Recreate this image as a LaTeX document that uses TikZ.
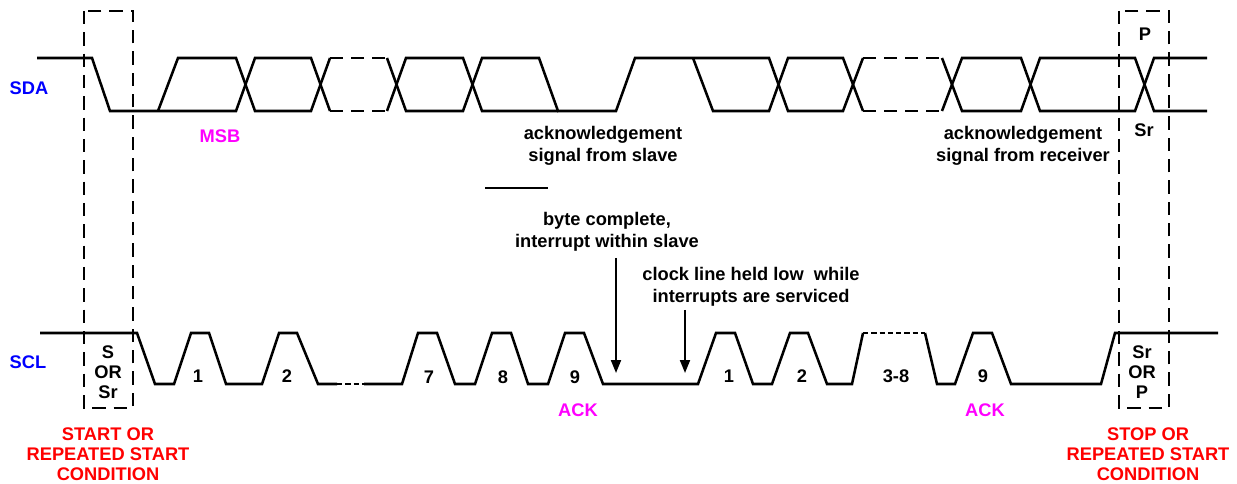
\documentclass[tikz,border=0pt]{standalone}
\usepackage{fontspec}
\setmainfont{Liberation Sans}
\usetikzlibrary{arrows.meta}
\definecolor{sigblue}{RGB}{0,0,255}
\definecolor{ackmag}{RGB}{255,0,255}
\definecolor{condred}{RGB}{255,0,0}
\tikzset{
  wave/.style={line width=1.9pt},
  busdash/.style={line width=1.9pt, dash pattern=on 9.75pt off 6pt},
  finedash/.style={line width=1.9pt, dash pattern=on 4pt off 2.2pt},
  condbox/.style={line width=1.5pt, dash pattern=on 10pt off 6pt},
  lbl/.style={font=\fontsize{13.7pt}{16.5pt}\selectfont\bfseries, inner sep=0pt, align=center},
  tight/.style={font=\fontsize{13.7pt}{14.8pt}\selectfont\bfseries, inner sep=0pt, align=center},
  arrowline/.style={line width=1.5pt, -{Triangle[length=9.75pt,width=7.5pt]}},
}
\begin{document}
\begin{tikzpicture}[x=0.75pt,y=-0.75pt]
\useasboundingbox (0,0) rectangle (1237,484);

% condition boxes
\draw[condbox] (84,11) rectangle (133,408);
\draw[condbox] (1119,11) rectangle (1169,408);

% SDA
\draw[wave] (37,58) -- (92,58) -- (110,111) -- (236,111) -- (255,58) -- (311,58) -- (330,111);
\draw[wave] (158,111) -- (178,58) -- (236,58) -- (255,111) -- (311,111) -- (330,58);
\draw[busdash] (330,58) -- (387,58);
\draw[busdash] (330,111) -- (387,111);
\draw[wave] (387,58) -- (406,111) -- (463,111) -- (482,58) -- (539,58) -- (558,111) -- (616,111) -- (635,58) -- (769,58) -- (788,111) -- (843,111) -- (863,58);
\draw[wave] (387,111) -- (406,58) -- (463,58) -- (482,111) -- (558,111);
\draw[wave] (693,58) -- (713,111) -- (769,111) -- (788,58) -- (843,58) -- (863,111);
\draw[busdash] (863,58) -- (942,58);
\draw[busdash] (863,111) -- (942,111);
\draw[wave] (942,58) -- (962,111) -- (1021,111) -- (1040,58) -- (1135,58) -- (1154,111) -- (1207,111);
\draw[wave] (942,111) -- (962,58) -- (1021,58) -- (1040,111) -- (1135,111) -- (1154,58) -- (1207,58);

% SCL
\draw[wave] (40,333) -- (137,333) -- (155,384) -- (174,384) -- (191,333) -- (209,333) -- (226,384) -- (262,384) -- (279,333) -- (297,333) -- (318,384) -- (337,384);
\draw[finedash] (337,384) -- (364,384);
\draw[wave] (364,384) -- (402,384) -- (418,333) -- (437,333) -- (455,384) -- (475,384) -- (492,333) -- (511,333) -- (528,384) -- (548,384) -- (565,333) -- (584,333) -- (603,384) -- (698,384) -- (716,333) -- (735,333) -- (753,384) -- (772,384) -- (790,333) -- (808,333) -- (827,384) -- (852,384) -- (863,333);
\draw[finedash] (863,333) -- (925,333);
\draw[wave] (925,333) -- (937,384) -- (955,384) -- (973,333) -- (992,333) -- (1011,384) -- (1101,384) -- (1115,333) -- (1218,333);

% stray bar
\draw[line width=2.2pt] (485,188) -- (548,188);

% labels
\node[lbl, text=sigblue] (sda) at (29,88) {SDA};
\node[lbl, text=sigblue] (scl) at (28,362) {SCL};
\node[lbl, text=ackmag] (msb) at (220,136) {MSB};
\node[lbl] (ackslave) at (603,146) {acknowledgement\\signal from slave};
\node[lbl] (ackrecv) at (1023,146) {acknowledgement\\signal from receiver};
\node[lbl] (ptop) at (1145,34) {P};
\node[lbl] (srtop) at (1144,130) {Sr};
\node[lbl] (byte) at (607,232) {byte complete,\\interrupt within slave};
\node[lbl] (clock) at (751,287) {clock line held low\ \ while\\interrupts are serviced};

\node[lbl] (n1) at (198,376) {1};
\node[lbl] (n2) at (287,376) {2};
\node[lbl] (n7) at (429,377) {7};
\node[lbl] (n8) at (503,377) {8};
\node[lbl] (n9) at (575,377) {9};
\node[lbl] (m1) at (729,376) {1};
\node[lbl] (m2) at (802,376) {2};
\node[lbl] (m38) at (896,376) {3-8};
\node[lbl] (m9) at (983,376) {9};

\node[lbl, text=ackmag] (ack1) at (578,410) {ACK};
\node[lbl, text=ackmag] (ack2) at (985,410) {ACK};

\node[tight] (sor) at (108,372) {S\\OR\\Sr};
\node[tight] (srop) at (1142,372) {Sr\\OR\\P};

\node[tight, text=condred] (startc) at (108,454) {START OR\\REPEATED START\\CONDITION};
\node[tight, text=condred] (stopc) at (1148,454) {STOP OR\\REPEATED START\\CONDITION};

% arrows
\coordinate (a1s) at (616,258);
\coordinate (a1e) at (616,373);
\coordinate (a2s) at (685,310);
\coordinate (a2e) at (685,373);
\draw[arrowline] (a1s) -- (a1e);
\draw[arrowline] (a2s) -- (a2e);
\end{tikzpicture}
\end{document}
